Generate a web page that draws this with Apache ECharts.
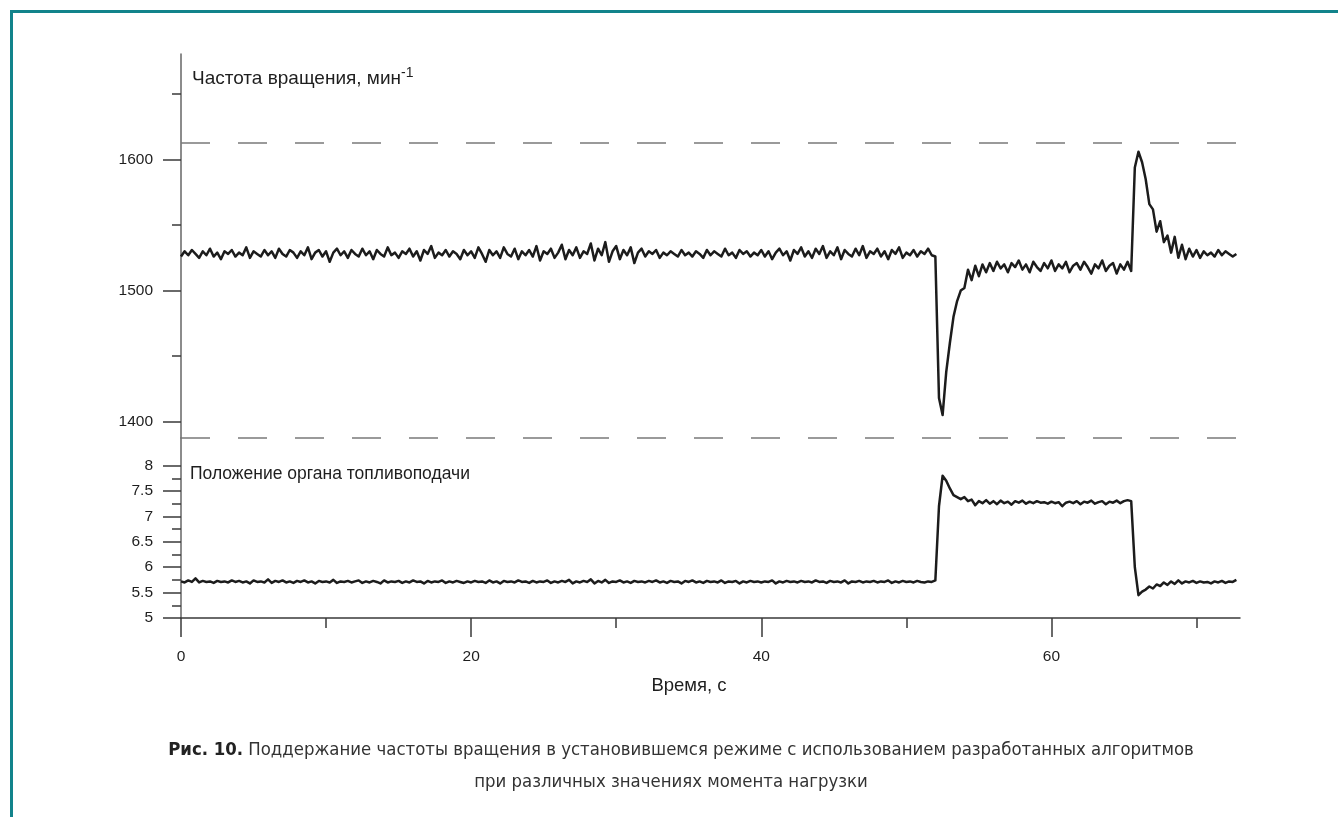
<!DOCTYPE html>
<html>
<head>
<meta charset="utf-8">
<script src="https://cdn.jsdelivr.net/npm/echarts@6/dist/echarts.min.js"></script>
<style>
html,body{margin:0;padding:0;background:#fff;}
#chart{width:1338px;height:817px;}
</style>
</head>
<body>
<div id="chart"></div>
<script>
// ---- data (sampled every 0.25 s, starting at t = 0) ----
const timeStep = 0.25;

// Частота вращения, мин-1
const rpmValues = [
  // 0 .. 51.75 s
  1526,1530,1527,1531,1528,1525,1530,1527,1532,1526,1529,1524,1530,1528,1531,1526,
  1529,1527,1533,1525,1530,1528,1526,1531,1527,1530,1525,1532,1528,1526,1531,1529,
  1525,1530,1527,1533,1524,1529,1531,1526,1530,1522,1529,1532,1527,1530,1525,1531,
  1528,1526,1532,1527,1530,1524,1531,1528,1526,1533,1527,1529,1525,1530,1528,1532,
  1526,1530,1523,1531,1528,1534,1525,1529,1527,1531,1526,1530,1528,1524,1531,1527,
  1530,1525,1533,1528,1522,1531,1527,1530,1525,1533,1528,1526,1532,1524,1530,1527,
  1531,1526,1534,1523,1530,1528,1532,1525,1529,1535,1524,1531,1527,1533,1525,1530,
  1528,1536,1523,1532,1527,1537,1522,1530,1534,1524,1531,1527,1533,1521,1529,1532,
  1526,1530,1528,1531,1525,1529,1527,1530,1528,1526,1531,1527,1529,1526,1530,1528,
  1525,1531,1527,1530,1528,1526,1532,1527,1529,1525,1531,1528,1530,1526,1529,1527,
  1531,1526,1530,1524,1529,1532,1527,1530,1523,1531,1528,1533,1526,1530,1525,1532,
  1528,1534,1525,1530,1527,1533,1524,1531,1528,1526,1532,1527,1534,1525,1530,1528,
  1532,1526,1530,1524,1531,1528,1533,1525,1529,1527,1531,1526,1530,1528,1532,1527,
  // 52.0 s load step
  1526,
  1418,1405,1438,1460,1480,1492,1500,1502,1516,1508,1519,1511,1520,1514,1521,
  // 56.0 .. 65.25 s
  1515,1522,1517,1520,1514,1521,1518,1523,
  1516,1520,1514,1522,1518,1515,1521,1517,
  1523,1515,1520,1517,1522,1514,1519,1521,
  1516,1522,1518,1513,1520,1517,1523,1515,
  1519,1521,1513,1520,1516,1522,
  // 65.5 s load release
  1515,
  1594,1606,1598,1585,1566,1562,1545,1553,1537,1542,1529,1541,1525,1535,1524,
  1532,1526,1531,1525,1530,1527,1529,1526,1531,1527,1530,1528,1526,1528
];

// Положение органа топливоподачи
const fuelValues = [
  5.72,5.70,5.74,5.71,5.78,5.70,5.73,5.71,5.72,5.69,5.73,5.71,5.72,5.70,5.74,5.71,
  5.73,5.70,5.72,5.68,5.74,5.71,5.72,5.70,5.76,5.69,5.73,5.71,5.74,5.70,5.72,5.69,
  5.73,5.71,5.74,5.70,5.72,5.68,5.73,5.71,5.72,5.70,5.75,5.69,5.72,5.71,5.73,5.70,
  5.72,5.74,5.69,5.72,5.70,5.73,5.71,5.68,5.74,5.70,5.72,5.71,5.73,5.69,5.72,5.70,
  5.74,5.71,5.72,5.68,5.73,5.70,5.72,5.71,5.74,5.69,5.72,5.70,5.73,5.71,5.69,5.72,
  5.70,5.73,5.71,5.72,5.69,5.74,5.70,5.72,5.68,5.73,5.71,5.72,5.70,5.74,5.71,5.72,
  5.69,5.73,5.70,5.72,5.71,5.74,5.69,5.72,5.70,5.73,5.71,5.75,5.68,5.72,5.70,5.73,
  5.71,5.76,5.68,5.73,5.70,5.75,5.69,5.72,5.71,5.74,5.70,5.72,5.69,5.73,5.71,5.72,
  5.70,5.73,5.71,5.74,5.70,5.72,5.69,5.73,5.71,5.72,5.68,5.73,5.71,5.74,5.70,5.72,
  5.69,5.73,5.71,5.72,5.70,5.74,5.69,5.72,5.71,5.73,5.68,5.72,5.70,5.73,5.71,5.72,
  5.70,5.72,5.71,5.74,5.68,5.72,5.70,5.73,5.71,5.72,5.70,5.73,5.71,5.72,5.70,5.74,
  5.71,5.72,5.69,5.73,5.71,5.72,5.70,5.74,5.68,5.72,5.71,5.73,5.70,5.72,5.71,5.73,
  5.70,5.72,5.71,5.74,5.69,5.72,5.70,5.73,5.71,5.72,5.70,5.73,5.71,5.70,5.72,5.71,
  5.74,
  7.20,7.80,7.70,7.55,7.42,7.38,7.34,7.38,7.30,7.33,7.22,7.30,7.26,7.32,7.25,
  7.30,7.24,7.31,7.26,7.29,7.23,7.30,7.27,
  7.31,7.25,7.29,7.26,7.30,7.27,7.28,7.25,
  7.29,7.26,7.28,7.20,7.27,7.29,7.26,7.30,
  7.24,7.29,7.27,7.31,7.25,7.28,7.30,7.24,
  7.29,7.27,7.31,7.26,7.30,7.32,
  7.30,
  6.00,5.45,5.52,5.56,5.62,5.58,5.66,5.63,5.70,5.65,5.72,5.67,5.74,5.68,5.72,
  5.70,5.73,5.69,5.72,5.70,5.71,5.68,5.72,5.70,5.73,5.69,5.72,5.71,5.75
];

// reference (dashed) levels of rotation speed
const rpmLimits = [1612.5, 1387.5];

// axis ticks
const rpmLabelTicks = [1400, 1500, 1600];
const rpmMinorTicks = [1450, 1550, 1650];
const fuelLabelTicks = [5, 5.5, 6, 6.5, 7, 7.5, 8];
const fuelMinorTicks = [5.25, 5.75, 6.25, 6.75, 7.25, 7.75];
const timeLabelTicks = [0, 20, 40, 60];
const timeMinorTicks = [10, 30, 50, 70];

// texts
const titleRpm = 'Частота вращения, мин';
const titleRpmSup = '-1';
const titleFuel = 'Положение органа топливоподачи';
const xName = 'Время, с';
const captionBold = 'Рис. 10.';
const captionLine1 = ' Поддержание частоты вращения в установившемся режиме с использованием разработанных алгоритмов';
const captionLine2 = 'при различных значениях момента нагрузки';

// ---- chart ----
const rpmData = rpmValues.map((v, i) => [i * timeStep, v]);
const fuelData = fuelValues.map((v, i) => [i * timeStep, v]);

const FONT = '"Liberation Sans", Arial, Helvetica, sans-serif';
const NARROW = '"Liberation Sans Narrow", "DejaVu Sans Condensed", "Liberation Sans", sans-serif';
const axisCol = '#3a3a3a';
const textCol = '#1e1e1e';

const xMax = 73;
const rpmMin = 1387.5, rpmMax = 1680.6;
const fuelMin = 5, fuelMax = 8.543;

const chart = echarts.init(document.getElementById('chart'), null, {renderer: 'canvas'});

const labelStyle = {color: textCol, fontSize: 15.5, fontFamily: FONT, formatter: v => String(v)};

chart.setOption({
  animation: false,
  backgroundColor: '#fff',
  grid: [
    {left: 181, right: 98, top: 54, height: 384, outerBoundsMode: 'none', containLabel: false},
    {left: 181, right: 98, top: 438, height: 180, outerBoundsMode: 'none', containLabel: false}
  ],
  xAxis: [
    {type: 'value', gridIndex: 0, min: 0, max: xMax, show: false},
    {type: 'value', gridIndex: 1, min: 0, max: xMax, position: 'bottom',
      axisLine: {show: true, lineStyle: {color: axisCol, width: 1.5}},
      axisTick: {show: true, customValues: timeLabelTicks, length: 19, lineStyle: {color: axisCol, width: 1.5}},
      axisLabel: Object.assign({show: true, customValues: timeLabelTicks, margin: 31}, labelStyle),
      splitLine: {show: false}
    },
    {type: 'value', gridIndex: 1, min: 0, max: xMax, position: 'bottom', offset: 0,
      axisLine: {show: false},
      axisTick: {show: true, customValues: timeMinorTicks, length: 10, lineStyle: {color: axisCol, width: 1.5}},
      axisLabel: {show: false},
      splitLine: {show: false}
    }
  ],
  yAxis: [
    {type: 'value', gridIndex: 0, min: rpmMin, max: rpmMax, position: 'left',
      axisLine: {show: true, lineStyle: {color: '#666', width: 1.5}},
      axisTick: {show: true, customValues: rpmLabelTicks, length: 18, lineStyle: {color: axisCol, width: 1.5}},
      axisLabel: Object.assign({show: true, customValues: rpmLabelTicks, margin: 28}, labelStyle),
      splitLine: {show: false}
    },
    {type: 'value', gridIndex: 1, min: fuelMin, max: fuelMax, position: 'left',
      axisLine: {show: true, lineStyle: {color: '#666', width: 1.5}},
      axisTick: {show: true, customValues: fuelLabelTicks, length: 18, lineStyle: {color: axisCol, width: 1.5}},
      axisLabel: Object.assign({show: true, customValues: fuelLabelTicks, margin: 28}, labelStyle),
      splitLine: {show: false}
    },
    {type: 'value', gridIndex: 0, min: rpmMin, max: rpmMax, position: 'left', offset: 0,
      axisLine: {show: false},
      axisTick: {show: true, customValues: rpmMinorTicks, length: 9, lineStyle: {color: axisCol, width: 1.5}},
      axisLabel: {show: false}, splitLine: {show: false}
    },
    {type: 'value', gridIndex: 1, min: fuelMin, max: fuelMax, position: 'left', offset: 0,
      axisLine: {show: false},
      axisTick: {show: true, customValues: fuelMinorTicks, length: 9, lineStyle: {color: axisCol, width: 1.5}},
      axisLabel: {show: false}, splitLine: {show: false}
    }
  ],
  series: [
    {
      type: 'line', xAxisIndex: 0, yAxisIndex: 0, data: rpmData,
      showSymbol: false, symbol: 'none', smooth: false,
      lineStyle: {color: '#1c1c1c', width: 2.5, join: 'round'},
      markLine: {
        silent: true, symbol: ['none', 'none'], label: {show: false},
        lineStyle: {color: '#7a7a7a', width: 1.5, type: [29, 28]},
        emphasis: {disabled: true},
        data: rpmLimits.map(v => ({yAxis: v}))
      }
    },
    {
      type: 'line', xAxisIndex: 1, yAxisIndex: 1, data: fuelData,
      showSymbol: false, symbol: 'none', smooth: false,
      lineStyle: {color: '#1c1c1c', width: 2.5, join: 'round'}
    }
  ],
  graphic: [
    {type: 'rect', silent: true, shape: {x: 10, y: 10, width: 1328, height: 3}, style: {fill: '#12838b'}},
    {type: 'rect', silent: true, shape: {x: 10, y: 10, width: 3, height: 807}, style: {fill: '#12838b'}},
    {type: 'text', silent: true, x: 192, y: 79, style: {
      text: '{a|' + titleRpm + '}{s|' + titleRpmSup + '}',
      verticalAlign: 'middle', align: 'left',
      rich: {
        a: {fontSize: 19, fontFamily: FONT, fill: textCol, lineHeight: 26},
        s: {fontSize: 14, fontFamily: FONT, fill: textCol, lineHeight: 14, verticalAlign: 'top'}
      }
    }},
    {type: 'text', silent: true, x: 190, y: 474, style: {
      text: titleFuel, font: '17.5px ' + FONT, fill: textCol, verticalAlign: 'middle', align: 'left'
    }},
    {type: 'text', silent: true, x: 689, y: 686, style: {
      text: xName, font: '18.5px ' + FONT, fill: textCol, verticalAlign: 'middle', align: 'center'
    }},
    {type: 'text', silent: true, x: 681, y: 750, style: {
      text: '{b|' + captionBold + '}{r|' + captionLine1 + '}',
      verticalAlign: 'middle', align: 'center',
      rich: {
        b: {fontSize: 18.4, fontFamily: NARROW, fontWeight: 'bold', fill: '#222'},
        r: {fontSize: 18.4, fontFamily: NARROW, fill: '#333'}
      }
    }},
    {type: 'text', silent: true, x: 671, y: 782, style: {
      text: captionLine2, font: '18.4px ' + NARROW, fill: '#333', verticalAlign: 'middle', align: 'center'
    }}
  ]
});
</script>
</body>
</html>
